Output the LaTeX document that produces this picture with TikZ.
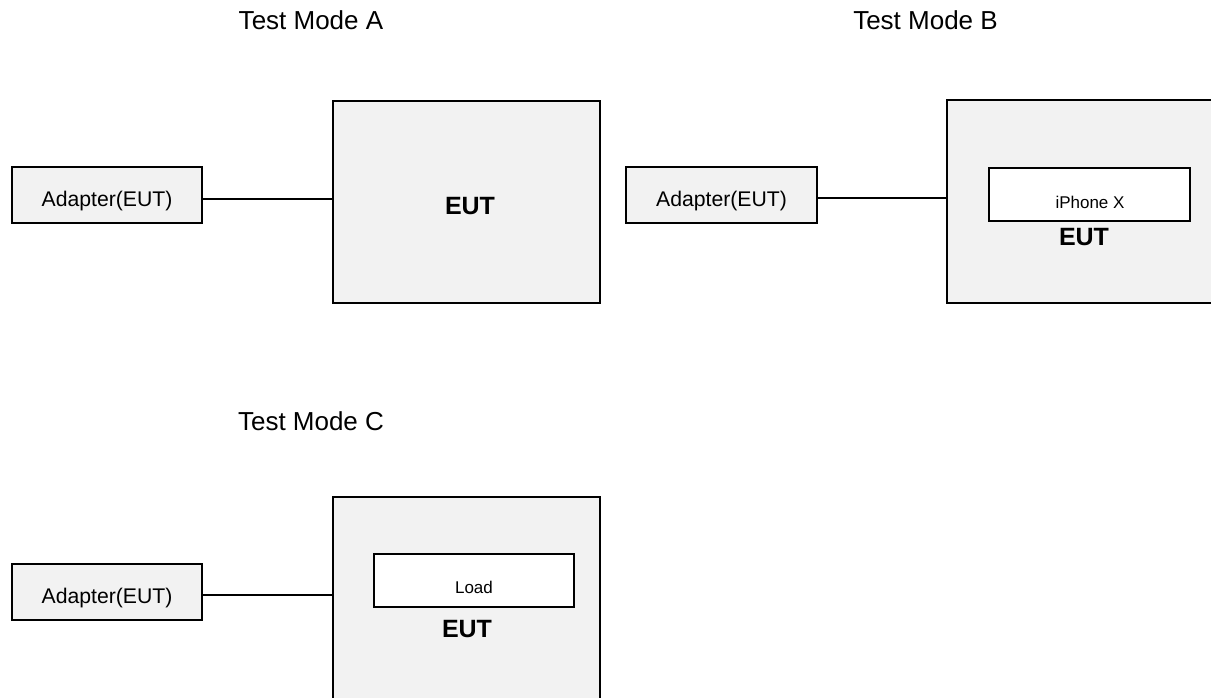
\documentclass[tikz,border=0pt]{standalone}
\usepackage{fontspec}
\setmainfont{Liberation Sans}
\definecolor{boxgray}{HTML}{F2F2F2}
\tikzset{
  unitbox/.style={draw=black, line width=1pt, fill=boxgray, rectangle, inner sep=0pt},
  innerbox/.style={draw=black, line width=1pt, fill=white, rectangle, inner sep=0pt},
  wire/.style={draw=black, line width=1pt},
  title/.style={anchor=base, inner sep=0pt, font=\fontsize{13}{15}\selectfont},
  adaptertext/.style={anchor=base, inner sep=0pt, font=\fontsize{10.6}{12}\selectfont},
  euttext/.style={anchor=base, inner sep=0pt, font=\fontsize{12.5}{14}\selectfont\bfseries},
  smalltext/.style={anchor=base, inner sep=0pt, font=\fontsize{8.5}{10}\selectfont}
}
\begin{document}
\begin{tikzpicture}[x=0.5pt,y=-0.5pt]
\clip (0,0) rectangle (1211,697);
\fill[white] (0,0) rectangle (1211,697);

% ---- Test Mode A ----
\node[title] (titleA) at (311,29) {Test Mode A};
\node[unitbox, minimum width=95pt, minimum height=28pt] (adA) at (107,195) {};
\node[adaptertext] (adAtxt) at (107,206) {Adapter(EUT)};
\node[unitbox, minimum width=133.5pt, minimum height=101pt] (eutA) at (466.5,202) {};
\node[euttext] (eutAtxt) at (470,214) {EUT};
\draw[wire] ([yshift=-2pt]adA.east) -- ([yshift=-2pt]adA.east -| eutA.west);

% ---- Test Mode B ----
\node[title] (titleB) at (925.5,29) {Test Mode B};
\node[unitbox, minimum width=95.5pt, minimum height=28pt] (adB) at (721.5,195) {};
\node[adaptertext] (adBtxt) at (721.5,206) {Adapter(EUT)};
\node[unitbox, minimum width=135pt, minimum height=101.5pt] (eutB) at (1082,201.5) {};
\node[innerbox, minimum width=100.5pt, minimum height=26.5pt] (phone) at (1089.5,194.5) {};
\node[smalltext] (phonetxt) at (1090,208) {iPhone X};
\node[euttext] (eutBtxt) at (1084,245) {EUT};
\draw[wire] ([yshift=-1.5pt]adB.east) -- ([yshift=-1.5pt]adB.east -| eutB.west);

% ---- Test Mode C ----
\node[title] (titleC) at (311,430) {Test Mode C};
\node[unitbox, minimum width=95pt, minimum height=28pt] (adC) at (107,592) {};
\node[adaptertext] (adCtxt) at (107,603) {Adapter(EUT)};
\node[unitbox, minimum width=133.5pt, minimum height=101.5pt] (eutC) at (466.5,598.5) {};
\node[innerbox, minimum width=100pt, minimum height=26.5pt] (load) at (474,580.5) {};
\node[smalltext] (loadtxt) at (474,593) {Load};
\node[euttext] (eutCtxt) at (467,637) {EUT};
\draw[wire] ([yshift=-1.5pt]adC.east) -- ([yshift=-1.5pt]adC.east -| eutC.west);
\end{tikzpicture}
\end{document}
